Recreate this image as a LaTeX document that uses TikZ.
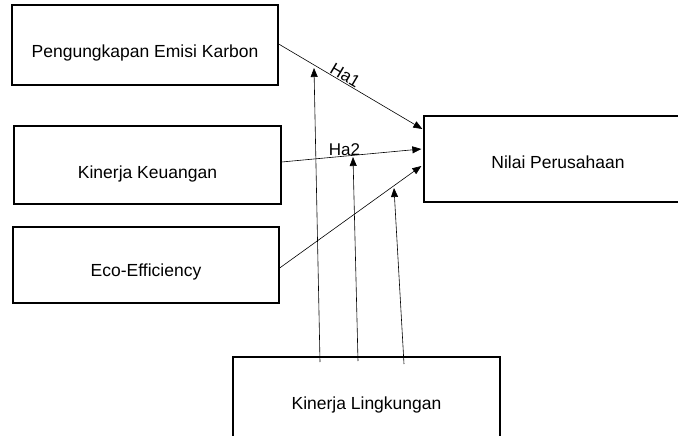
\documentclass[tikz,border=0pt]{standalone}
\usepackage{fontspec}
\setmainfont{Liberation Sans}
\usetikzlibrary{arrows.meta}
\begin{document}
\begin{tikzpicture}[x=1pt,y=-1pt,
  box/.style={draw,line width=1.3pt,rectangle,inner sep=0pt,font=\fontsize{17.5}{20}\selectfont,text height=26pt,text depth=0pt},
  conn/.style={line width=0.6pt,-{Triangle[length=9pt,width=7pt]}},
  hlab/.style={font=\fontsize{17}{19}\selectfont,inner sep=0.5pt}]
\clip (0,0) rectangle (678,436);
\fill[white] (0,0) rectangle (678,436);
\node[box,minimum width=266pt,minimum height=80pt] (pek) at (145,45) {Pengungkapan Emisi Karbon};
\node[box,minimum width=267pt,minimum height=78pt] (kk) at (147.5,165) {Kinerja Keuangan};
\node[box,minimum width=266pt,minimum height=76pt,text height=22pt] (eco) at (146,265) {Eco-Efficiency};
\node[box,minimum width=268pt,minimum height=86pt,text height=18pt] (nilai) at (558,159) {Nilai Perusahaan};
\node[box,minimum width=267pt,minimum height=92pt,text height=12pt] (kl) at (366.5,403) {Kinerja Lingkungan};
\coordinate (t1) at (314,68);
\coordinate (t2) at (353,157);
\coordinate (t3) at (394,188);
\coordinate (s1) at (320,362);
\coordinate (s2) at (358,361);
\coordinate (s3) at (404,364);
\draw[conn] ([yshift=1pt]pek.east) -- node[pos=0.44,sloped,above,hlab] {Ha1} ([yshift=30pt,xshift=-1pt]nilai.west);
\draw[conn] ([yshift=3pt]kk.east) -- node[pos=0.45,above,hlab] {Ha2} ([yshift=10pt,xshift=-2pt]nilai.west);
\draw[conn] ([yshift=-3pt]eco.east) -- ([yshift=-7pt,xshift=-2pt]nilai.west);
\draw[conn] (s1) -- (t1);
\draw[conn] (s2) -- (t2);
\draw[conn] (s3) -- (t3);
\end{tikzpicture}
\end{document}
